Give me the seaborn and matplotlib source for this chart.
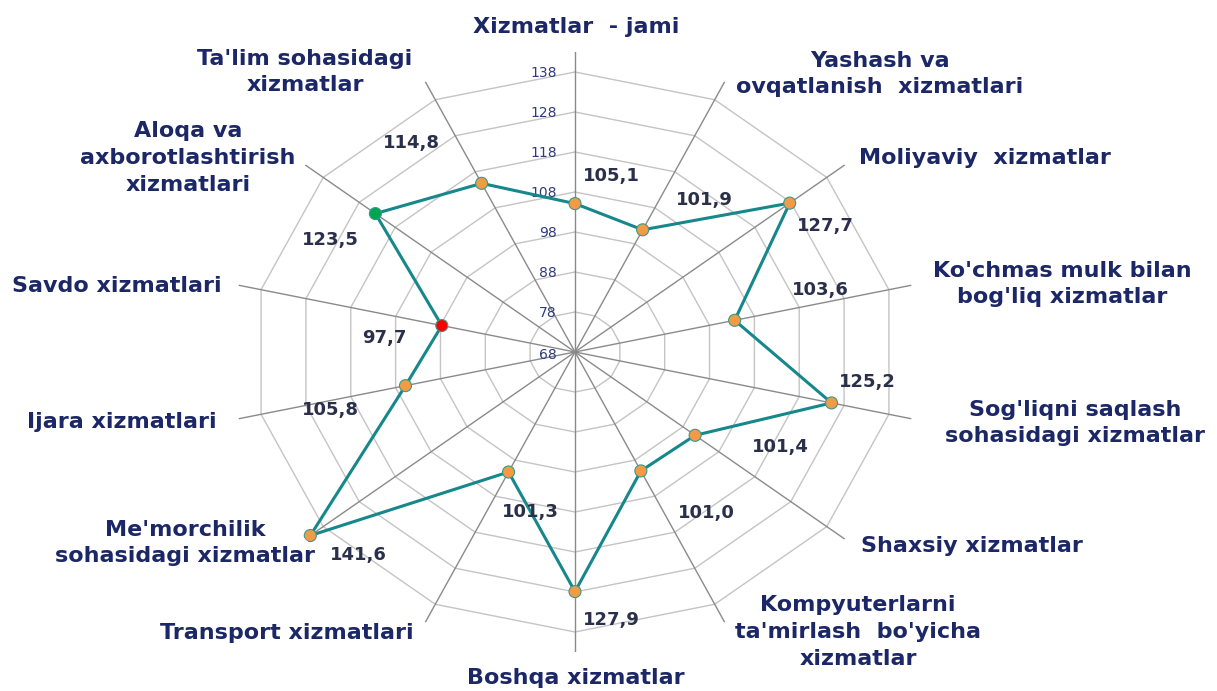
import numpy as np
import pandas as pd
import matplotlib
matplotlib.use('Agg')
import matplotlib.pyplot as plt
import seaborn as sns

# Ma'lumotlar (soat yo'nalishida, tepadan boshlab)
categories = [
    "Xizmatlar  - jami",
    "Yashash va\novqatlanish  xizmatlari",
    "Moliyaviy  xizmatlar",
    "Ko'chmas mulk bilan\nbog'liq xizmatlar",
    "Sog'liqni saqlash\nsohasidagi xizmatlar",
    "Shaxsiy xizmatlar",
    "Kompyuterlarni\nta'mirlash  bo'yicha\nxizmatlar",
    "Boshqa xizmatlar",
    "Transport xizmatlari",
    "Me'morchilik\nsohasidagi xizmatlar",
    "Ijara xizmatlari",
    "Savdo xizmatlari",
    "Aloqa va\naxborotlashtirish\nxizmatlari",
    "Ta'lim sohasidagi\nxizmatlar",
]
values = [105.1, 101.9, 127.7, 103.6, 125.2, 101.4, 101.0,
          127.9, 101.3, 141.6, 105.8, 97.7, 123.5, 114.8]
value_labels = ["105,1", "101,9", "127,7", "103,6", "125,2", "101,4", "101,0",
                "127,9", "101,3", "141,6", "105,8", "97,7", "123,5", "114,8"]
ticks = [68, 78, 88, 98, 108, 118, 128, 138]
r_max = 143

# Bezak / joylashuv
marker_colors = ["#f39a45"] * 14
marker_colors[11] = "#ff0000"   # Savdo
marker_colors[12] = "#00a550"   # Aloqa
# qiymat yorliqlari siljishi (piksel)
value_offsets = [(36, -28), (62, -30), (36, 23), (86, -30), (36, -21), (85, 12), (66, 42),
                 (36, 28), (22, 40), (48, 19), (-75, 24), (-57, 12), (-45, 26), (-70, -40)]
# toifa yorliqlari markazi (piksel)
label_xy = [(576, 27), (880, 74), (985, 158), (1062, 284), (1075, 423), (972, 546),
            (858, 632), (576, 678), (287, 633), (185, 543), (122, 422), (117, 286),
            (188, 158), (305, 72)]

NAVY = "#1b2766"
W, H = 1217, 691

sns.set_theme(style="white")
plt.rcParams['font.family'] = ['DejaVu Sans']

n = len(categories)
theta = np.arange(n) * 2 * np.pi / n

df = pd.DataFrame({'theta': theta, 'value': values, 'cat': range(n)})
df_closed = pd.concat([df, df.iloc[[0]]], ignore_index=True)

fig = plt.figure(figsize=(W / 100, H / 100), dpi=100)
ax = fig.add_axes([230 / W, 1 - 652 / H, 690 / W, 600 / H], projection='polar')
ax.set_aspect('auto')
ax.set_theta_zero_location('N')
ax.set_theta_direction(-1)
ax.grid(False)
ax.spines['polar'].set_visible(False)
ax.set_xticks([])
ax.set_yticks([])

# ko'pburchak to'r
th_closed = np.append(theta, theta[0])
for lv in ticks[1:]:
    ax.plot(th_closed, [lv] * (n + 1), color="#c4c4c4", lw=1.0, zorder=1)
for t in theta:
    ax.plot([t, t], [ticks[0], r_max], color="#8a8a8a", lw=1.0, zorder=1)

# shkala yorliqlari
for lv in ticks:
    ax.annotate(str(lv), xy=(0, lv), xytext=(-18, -1 if lv > 68 else -3),
                textcoords='offset pixels', ha='right', va='center',
                fontsize=10, color="#2e3b7a", annotation_clip=False)

# ma'lumot chizig'i
sns.lineplot(data=df_closed, x='theta', y='value', sort=False, ax=ax,
             color="#16878a", lw=2.2, zorder=3, estimator=None)
sns.scatterplot(data=df, x='theta', y='value', hue='cat', ax=ax,
                palette=dict(zip(range(n), marker_colors)), legend=False,
                s=75, edgecolor="#3a9a8a", linewidth=0.8, zorder=4)
ax.set_xlabel('')
ax.set_ylabel('')
ax.set_ylim(ticks[0], r_max)

for t, v, txt, off in zip(theta, values, value_labels, value_offsets):
    ax.annotate(txt, xy=(t, v), xytext=(off[0], -off[1]), textcoords='offset pixels',
                ha='center', va='center', fontsize=13, fontweight='bold',
                color="#2a2f4a", annotation_clip=False)

for txt, (x, y) in zip(categories, label_xy):
    fig.text(x / W, 1 - y / H, txt, ha='center', va='center', fontsize=16,
             fontweight='bold', color=NAVY, linespacing=1.42)

plt.savefig('out.png', dpi=100, facecolor='white')
plt.close()
